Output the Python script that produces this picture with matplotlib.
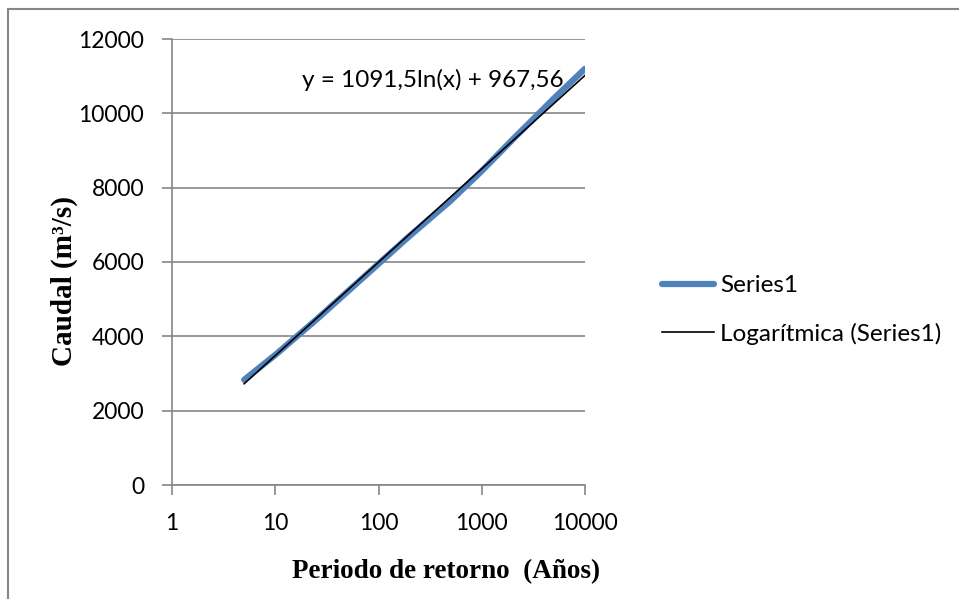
import matplotlib
matplotlib.use('Agg')
import matplotlib.pyplot as plt
import numpy as np
from matplotlib.patches import Rectangle

# periodo de retorno (años) y caudal estimado (m3/s)
periodos = [5, 10, 25, 50, 100, 200, 500, 1000, 2000, 5000, 10000]
caudales = [2830, 3500, 4450, 5200, 5950, 6700, 7650, 8450, 9300, 10400, 11200]

# ajuste logaritmico y = a ln(x) + b
coef_a = 1091.5
coef_b = 967.56

x_ticks = [1, 10, 100, 1000, 10000]
y_ticks = [0, 2000, 4000, 6000, 8000, 10000, 12000]

gris = '#868686'
azul = '#4f81bd'

fig = plt.figure(figsize=(9.59, 5.99), dpi=100)
ax = fig.add_axes([172 / 959, 1 - 485 / 599, (585 - 172) / 959, (485 - 39) / 599])

x_fit = np.array(periodos, dtype=float)
y_fit = coef_a * np.log(x_fit) + coef_b

ax.plot(periodos, caudales, color=azul, lw=4.5, solid_capstyle='round', label='Series1', zorder=3)
ax.plot(x_fit, y_fit, color='black', lw=1.2, label='Logarítmica (Series1)', zorder=4)

ax.set_xscale('log')
ax.set_xlim(1, 10000)
ax.set_ylim(0, 12000)
ax.set_xticks(x_ticks)
ax.set_xticklabels([str(t) for t in x_ticks])
ax.minorticks_off()
ax.set_yticks(y_ticks)
ax.set_yticklabels([str(t) for t in y_ticks])

ax.grid(axis='y', color=gris, lw=1.2)
ax.set_axisbelow(True)
for s in ['top', 'right']:
    ax.spines[s].set_visible(False)
for s in ['left', 'bottom']:
    ax.spines[s].set_color(gris)
    ax.spines[s].set_linewidth(1.2)
ax.tick_params(axis='both', colors=gris, length=7, width=1.2, labelcolor='black',
               labelsize=16.5, pad=13)
for lbl in ax.get_xticklabels() + ax.get_yticklabels():
    lbl.set_fontfamily('Lato')

etiqueta = dict(fontfamily='Liberation Serif', fontweight='bold', fontsize=19.5)
fig.text(446 / 959, 1 - 572 / 599, 'Periodo de retorno  (Años)', ha='center', va='center', **etiqueta)
fig.text(64 / 959, 1 - 281 / 599, 'Caudal (m³/s)', ha='center', va='center', rotation=90,
         fontfamily='Liberation Serif', fontweight='bold', fontsize=21)

fig.text(433 / 959, 1 - 80 / 599, 'y = 1091,5ln(x) + 967,56', fontfamily='Lato',
         fontsize=17.5, ha='center', va='center')

leg = fig.legend(loc='center left', bbox_to_anchor=(640 / 959, 1 - 310 / 599),
                 frameon=False, prop={'family': 'Lato', 'size': 17.5},
                 handlelength=2.15, handletextpad=0.25, labelspacing=1.1)

# marco exterior del grafico
fig.patches.append(Rectangle((8 / 959, -0.1), 1.2, 1 - 9 / 599 + 0.1, transform=fig.transFigure,
                             fill=False, edgecolor=gris, lw=1.5))

fig.savefig('out.png', dpi=100)
